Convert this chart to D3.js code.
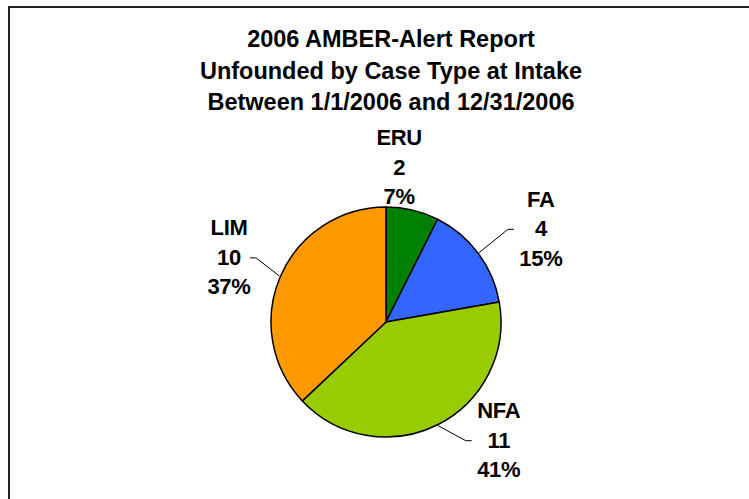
<!DOCTYPE html>
<html>
<head>
<meta charset="utf-8">
<script src="https://cdn.jsdelivr.net/npm/d3@7"></script>
<style>
  html, body { margin: 0; padding: 0; background: #fff; }
  text { font-family: "Liberation Sans", Arial, sans-serif; font-weight: bold; fill: #000; }
</style>
</head>
<body>
<script>
// chart data
const titleLines = ['2006 AMBER-Alert Report', 'Unfounded by Case Type at Intake', 'Between 1/1/2006 and 12/31/2006'];
const categories = ['ERU', 'FA', 'NFA', 'LIM'];
const counts = [2, 4, 11, 10];
const colors = ['#008000', '#3366FF', '#99CC00', '#FF9900'];

// label placement (polar, relative to each slice's mid angle) and leader lines
const labelLayout = {
    ERU: { r: 156, da: -8.5, dir: 0, gap: 0 },
    FA:  { r: 181, da: 5.5, dir: -1, gap: 27 },
    NFA: { r: 163, da: -17.1, dir: -1, gap: 27 },
    LIM: { r: 170, da: -0.8, dir: 1, gap: 21 }
};

var width = 749;
var height = 499;
var cx = 386;
var cy = 322;
var radius = 115;

const svg = d3.select('body').append('svg')
    .attr('width', width)
    .attr('height', height);

// plot-area border (only top and left edges fall inside the picture)
svg.append('rect')
    .attr('x', 9).attr('y', 7)
    .attr('width', 900).attr('height', 700)
    .attr('fill', 'none')
    .attr('stroke', '#222')
    .attr('stroke-width', 2);

svg.append('g')
    .selectAll('text')
    .data(titleLines)
    .join('text')
    .attr('x', 391)
    .attr('y', (d, i) => 47 + i * 31.5)
    .attr('text-anchor', 'middle')
    .style('font-size', '23.5px')
    .text(d => d);

const total = d3.sum(counts);
const pieData = d3.pie().sort(null).value(d => d.value)(
    categories.map((c, i) => ({ name: c, value: counts[i], color: colors[i] }))
);

const arc = d3.arc().innerRadius(0).outerRadius(radius);

const g = svg.append('g').attr('transform', `translate(${cx},${cy})`);

g.selectAll('path')
    .data(pieData)
    .join('path')
    .attr('d', arc)
    .attr('fill', d => d.data.color)
    .attr('stroke', '#000')
    .attr('stroke-width', 1.5)
    .attr('stroke-linejoin', 'round');

function polar(r, a) {
    return [r * Math.sin(a), -r * Math.cos(a)];
}

const lineH = 29.5;

pieData.forEach(d => {
    const lay = labelLayout[d.data.name];
    const mid = (d.startAngle + d.endAngle) / 2;
    const [lx, ly] = polar(lay.r, mid + lay.da * Math.PI / 180);
    const pct = Math.round(d.data.value / total * 100) + '%';
    const lines = [d.data.name, String(d.data.value), pct];

    g.append('g')
        .selectAll('text')
        .data(lines)
        .join('text')
        .attr('x', lx)
        .attr('y', (t, i) => ly + (i - 1) * lineH + 8)
        .attr('text-anchor', 'middle')
        .style('font-size', '22px')
        .style('letter-spacing', '-0.3px')
        .text(t => t);

    if (lay.dir) {
        const edge = polar(radius + 1, mid);
        const endX = lx + lay.dir * lay.gap;
        const elbowX = endX + lay.dir * 6;
        const yy = ly + 1;
        g.append('polyline')
            .attr('points', [edge, [elbowX, yy], [endX, yy]].map(p => p.join(',')).join(' '))
            .attr('fill', 'none')
            .attr('stroke', '#000')
            .attr('stroke-width', 1);
    }
});
</script>
</body>
</html>
